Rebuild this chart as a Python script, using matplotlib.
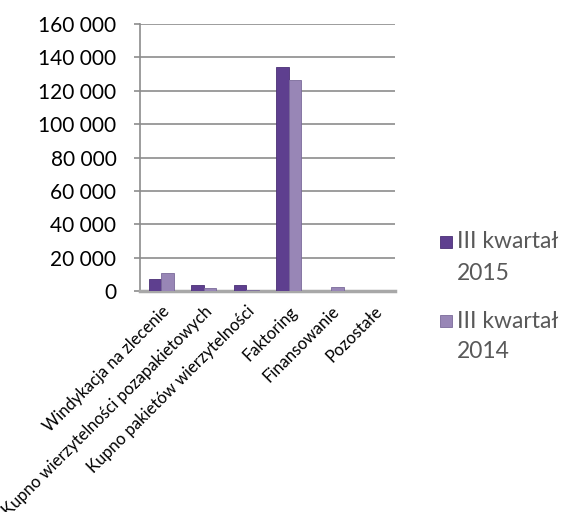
import numpy as np
import matplotlib.pyplot as plt
from matplotlib.patches import Rectangle
from matplotlib.ticker import FuncFormatter

# -------------------------------
# Data
# -------------------------------
categories = [
    "Windykacja na zlecenie",
    "Kupno wierzytelności pozapakietowych",
    "Kupno pakietów wierzytelności",
    "Faktoring",
    "Finansowanie",
    "Pozostałe",
]
q3_2015 = [7000, 3500, 3500, 134500, 200, 100]
q3_2014 = [11000, 1800, 600, 126500, 2500, 100]
series_labels = [("III kwartał", "2015"), ("III kwartał", "2014")]

color_2015 = "#5E3F8F"
color_2014 = "#9886B6"
grid_color = "#8C8C8C"
text_gray = "#595959"

plt.rcParams['font.family'] = ['Lato', 'DejaVu Sans']

# -------------------------------
# Plot
# -------------------------------
fig = plt.figure(figsize=(5.7, 5.12), dpi=100)
W, H = 570, 512
ax = fig.add_axes([140 / W, 1 - 291 / H, 255 / W, 267 / H])

x = np.arange(len(categories))
w = 0.29
b1 = ax.bar(x - w / 2, q3_2015, w, color=color_2015, edgecolor="#4A2F75",
            linewidth=0.6, zorder=3)
b2 = ax.bar(x + w / 2, q3_2014, w, color=color_2014, edgecolor="#7A6A9A",
            linewidth=0.6, zorder=3)

ax.set_xlim(-0.5, len(categories) - 0.5)
ax.set_ylim(0, 160000)
ax.set_yticks(np.arange(0, 160001, 20000))
ax.yaxis.set_major_formatter(FuncFormatter(lambda v, p: f"{int(v):,}".replace(",", " ")))
ax.grid(axis="y", color=grid_color, linewidth=1.2, zorder=0)
ax.tick_params(axis="y", length=4, color=grid_color, width=1.2, labelsize=15, pad=13)
ax.tick_params(axis="x", length=0, labelsize=12, pad=9)

ax.set_xticks(x)
ax.set_xticklabels(categories, rotation=45, ha="right", rotation_mode="anchor")

for s in ["top", "right"]:
    ax.spines[s].set_visible(False)
ax.spines["left"].set_color(grid_color)
ax.spines["left"].set_linewidth(1.2)
ax.spines["bottom"].set_color("#A8A8A8")
ax.spines["bottom"].set_linewidth(2.5)

# -------------------------------
# Legend (marker aligned with first text line)
# -------------------------------
legend_rows = [(242, color_2015, "#4A2F75"), (321, color_2014, "#7A6A9A")]
for (ypix, fc, ec), (line1, line2) in zip(legend_rows, series_labels):
    fig.add_artist(Rectangle((440 / W, 1 - (ypix + 6) / H), 12 / W, 12 / H,
                             transform=fig.transFigure, facecolor=fc,
                             edgecolor=ec, linewidth=0.6))
    fig.text(457 / W, 1 - ypix / H, line1, fontsize=16.5, color=text_gray,
             va="center", ha="left")
    fig.text(457 / W, 1 - (ypix + 31) / H, line2, fontsize=16.5, color=text_gray,
             va="center", ha="left")

fig.savefig("out.png", dpi=100)
